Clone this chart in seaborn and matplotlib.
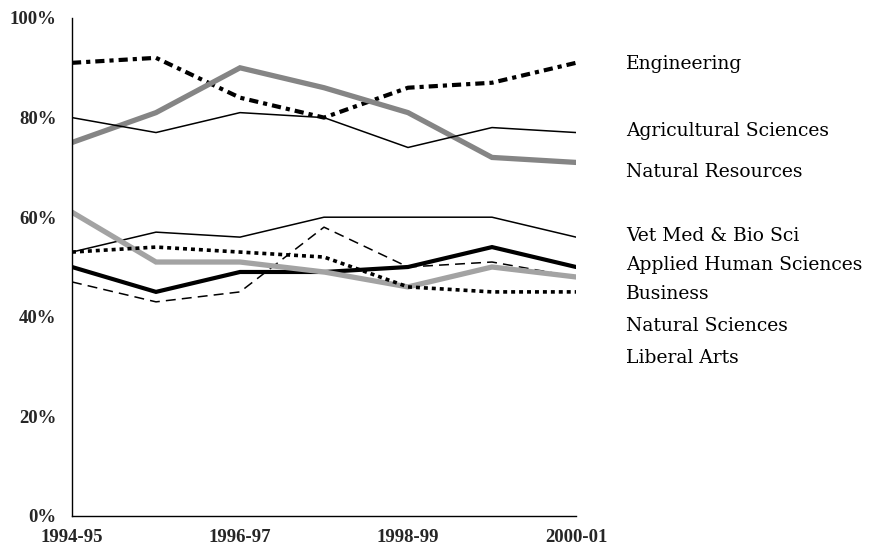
import matplotlib
matplotlib.use("Agg")
import matplotlib.pyplot as plt
import matplotlib.transforms as mtransforms
import seaborn as sns
import pandas as pd

years = ["1994-95", "1995-96", "1996-97", "1997-98", "1998-99", "1999-00", "2000-01"]
tick_years = ["1994-95", "1996-97", "1998-99", "2000-01"]
pct_ticks = [0, 20, 40, 60, 80, 100]

engineering = [91, 92, 84, 80, 86, 87, 91]
natural_resources = [75, 81, 90, 86, 81, 72, 71]
agricultural_sciences = [80, 77, 81, 80, 74, 78, 77]
vet_med_bio_sci = [53, 57, 56, 60, 60, 60, 56]
applied_human_sciences = [50, 45, 49, 49, 50, 54, 50]
business = [47, 43, 45, 58, 50, 51, 48]
natural_sciences = [61, 51, 51, 49, 46, 50, 48]
liberal_arts = [53, 54, 53, 52, 46, 45, 45]

# label text and its vertical position (percent) in the right-hand column
label_names = ["Engineering", "Agricultural Sciences", "Natural Resources",
               "Vet Med & Bio Sci", "Applied Human Sciences", "Business",
               "Natural Sciences", "Liberal Arts"]
label_y = [90.8, 77.3, 69.0, 56.2, 50.4, 44.6, 38.2, 31.7]

series = {
    "Engineering": engineering,
    "Natural Resources": natural_resources,
    "Agricultural Sciences": agricultural_sciences,
    "Vet Med & Bio Sci": vet_med_bio_sci,
    "Applied Human Sciences": applied_human_sciences,
    "Business": business,
    "Natural Sciences": natural_sciences,
    "Liberal Arts": liberal_arts,
}

styles = {
    "Engineering": dict(color="black", lw=3.0, dashes=(2.2, 1.2, 1.0, 1.2)),
    "Natural Resources": dict(color="#858585", lw=3.8, dashes=None),
    "Agricultural Sciences": dict(color="black", lw=1.1, dashes=None),
    "Vet Med & Bio Sci": dict(color="black", lw=1.1, dashes=None),
    "Applied Human Sciences": dict(color="black", lw=3.0, dashes=None),
    "Business": dict(color="black", lw=1.1, dashes=(6.5, 4.0)),
    "Natural Sciences": dict(color="#a3a3a3", lw=3.8, dashes=None),
    "Liberal Arts": dict(color="black", lw=2.6, dashes=(1.1, 1.1)),
}

rows = []
for name, vals in series.items():
    for i, (yr, v) in enumerate(zip(years, vals)):
        rows.append({"college": name, "idx": i, "year": yr, "pct": v})
df = pd.DataFrame(rows)

sns.set_theme(style="white")
plt.rcParams["font.family"] = ["DejaVu Serif"]

fig = plt.figure(figsize=(8.73, 5.5), dpi=100)
ax = fig.add_axes([72 / 873, 34 / 550, 504 / 873, 498 / 550])

for name in series:
    st = styles[name]
    sub = df[df["college"] == name]
    sns.lineplot(data=sub, x="idx", y="pct", ax=ax, color=st["color"],
                 linewidth=st["lw"], legend=False, sort=False)
    line = ax.lines[-1]
    if st["dashes"] is not None:
        line.set_dashes(st["dashes"])
        line.set_dash_capstyle("butt")
    line.set_solid_joinstyle("miter")

ax.set_xlim(0, len(years) - 1)
ax.set_ylim(0, 100)
ax.set_xlabel("")
ax.set_ylabel("")

tick_font = dict(fontfamily="Liberation Serif", fontweight="bold", fontsize=13.5)
ax.set_xticks([years.index(t) for t in tick_years])
ax.set_xticklabels(tick_years, **tick_font)
ax.set_yticks(pct_ticks)
ax.set_yticklabels([f"{v}%" for v in pct_ticks], **tick_font)
ax.tick_params(axis="both", length=0)
ax.tick_params(axis="y", pad=11)
ax.tick_params(axis="x", pad=9)

for side in ["top", "right"]:
    ax.spines[side].set_visible(False)
for side in ["left", "bottom"]:
    ax.spines[side].set_color("black")
    ax.spines[side].set_linewidth(1.0)

trans = mtransforms.blended_transform_factory(ax.transAxes, ax.transData)
for name, y in zip(label_names, label_y):
    ax.text(1.099, y, name, transform=trans, ha="left", va="center",
            fontsize=13.5, family="DejaVu Serif", color="black", clip_on=False)

fig.savefig("out.png", dpi=100)
